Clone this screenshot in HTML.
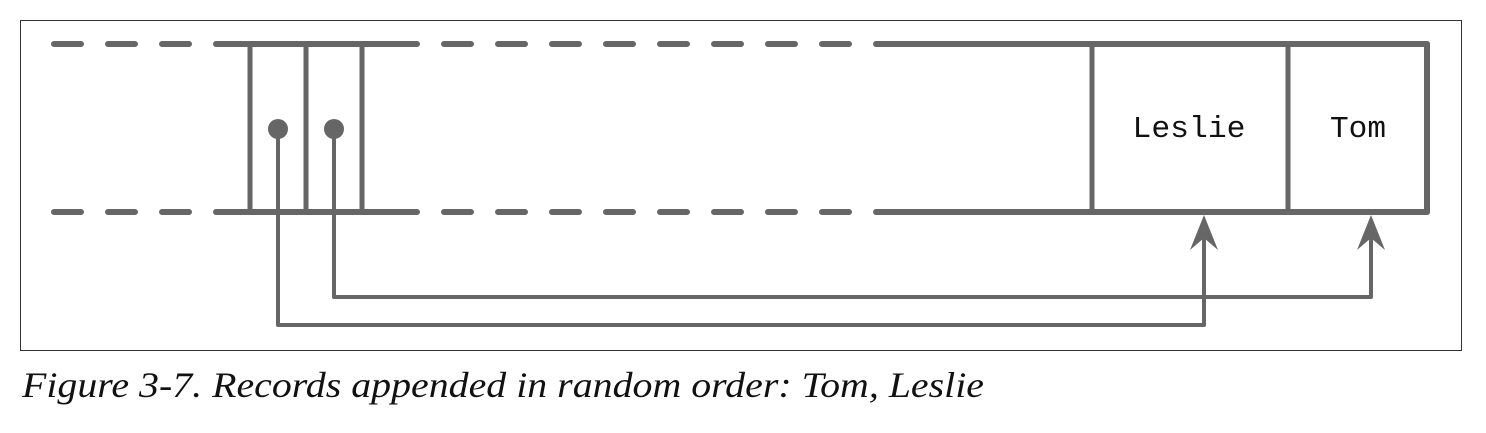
<!DOCTYPE html>
<html><head><style>
html,body{margin:0;padding:0;background:#fff;}
</style></head><body>
<svg width="1486" height="428" xmlns="http://www.w3.org/2000/svg">
<rect x="20.5" y="20.5" width="1441" height="330" fill="#fff" stroke="#333" stroke-width="1"/>
<g stroke="#666" fill="none" stroke-linecap="round">
 <line x1="54" y1="44" x2="216" y2="44" stroke-width="6" stroke-dasharray="27 27"/>
 <line x1="54" y1="212" x2="216" y2="212" stroke-width="6" stroke-dasharray="27 27"/>
 <line x1="216" y1="44" x2="417" y2="44" stroke-width="6"/>
 <line x1="216" y1="212" x2="417" y2="212" stroke-width="6"/>
 <line x1="444" y1="44" x2="876" y2="44" stroke-width="6" stroke-dasharray="27 27"/>
 <line x1="444" y1="212" x2="876" y2="212" stroke-width="6" stroke-dasharray="27 27"/>
 <line x1="876" y1="44" x2="1427" y2="44" stroke-width="6"/>
 <line x1="876" y1="212" x2="1427" y2="212" stroke-width="6"/>
 <line x1="1427" y1="44" x2="1427" y2="212" stroke-width="6"/>
 <g stroke-linecap="butt" stroke-width="5">
  <line x1="250" y1="44" x2="250" y2="212"/>
  <line x1="306" y1="44" x2="306" y2="212"/>
  <line x1="362" y1="44" x2="362" y2="212"/>
  <line x1="1092" y1="44" x2="1092" y2="212"/>
  <line x1="1288" y1="44" x2="1288" y2="212"/>
 </g>
 <polyline points="278,129 278,325 1204,325 1204,222" stroke-width="4" stroke-linejoin="round"/>
 <polyline points="334,129 334,297 1371,297 1371,222" stroke-width="4" stroke-linejoin="round"/>
</g>
<g fill="#666">
 <circle cx="278" cy="129" r="10"/>
 <circle cx="334" cy="129" r="10"/>
 <path d="M1204,215 L1218,250 L1204,238 L1190,250 Z"/>
 <path d="M1371,215 L1385,250 L1371,238 L1357,250 Z"/>
</g>
<g font-family="'Liberation Mono', monospace" font-size="31" fill="#111" text-anchor="middle">
 <text x="1189" y="137" textLength="113" lengthAdjust="spacingAndGlyphs">Leslie</text>
 <text x="1358" y="137" textLength="56" lengthAdjust="spacingAndGlyphs">Tom</text>
</g>
<text x="22" y="397" font-family="'Liberation Serif', serif" font-style="italic" font-size="36" fill="#111" textLength="962" lengthAdjust="spacingAndGlyphs">Figure 3-7. Records appended in random order: Tom, Leslie</text>
</svg>
</body></html>
